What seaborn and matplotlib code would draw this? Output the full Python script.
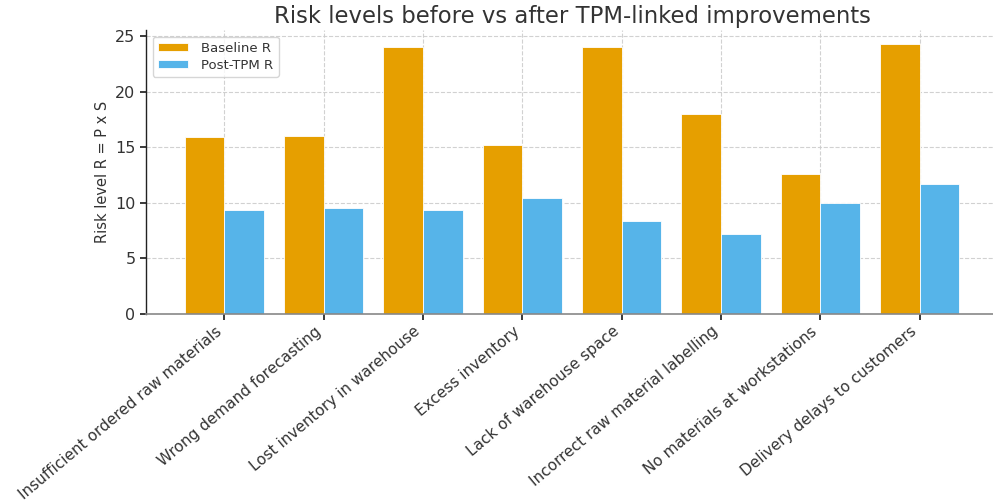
import matplotlib
matplotlib.use("Agg")
import matplotlib.pyplot as plt
import seaborn as sns
import pandas as pd

categories = [
    "Insufficient ordered raw materials",
    "Wrong demand forecasting",
    "Lost inventory in warehouse",
    "Excess inventory",
    "Lack of warehouse space",
    "Incorrect raw material labelling",
    "No materials at workstations",
    "Delivery delays to customers",
]
baseline_r = [15.9, 16.0, 24.0, 15.2, 24.0, 18.0, 12.6, 24.3]
post_tpm_r = [9.4, 9.5, 9.4, 10.4, 8.4, 7.2, 10.0, 11.7]
series_names = ["Baseline R", "Post-TPM R"]
colors = ["#E69F00", "#56B4E9"]

df = pd.DataFrame({
    "Failure mode": categories * 2,
    "Risk": baseline_r + post_tpm_r,
    "Series": [series_names[0]] * len(categories) + [series_names[1]] * len(categories),
})

sns.set_theme(style="white")
plt.rcParams["font.family"] = ["DejaVu Sans"]

fig = plt.figure(figsize=(9.93, 5.01), dpi=100)
ax = fig.add_axes([146 / 993, 1 - 314 / 501, (998 - 146) / 993, (314 - 30) / 501])

sns.barplot(
    data=df, x="Failure mode", y="Risk", hue="Series",
    palette=colors, saturation=1, width=0.8, ax=ax,
    edgecolor="white", linewidth=0.6,
)

ax.set_xlim(-0.79, len(categories) - 1 + 0.79)
ax.set_ylim(0, 25.56)
ax.set_yticks([0, 5, 10, 15, 20, 25])
ax.grid(True, linestyle="--", color="#cccccc", linewidth=0.8, alpha=0.9)
ax.set_axisbelow(True)

for side in ("top", "right"):
    ax.spines[side].set_visible(False)
ax.spines["left"].set_color("#222222")
ax.spines["bottom"].set_color("#888888")
ax.spines["left"].set_linewidth(1.0)
ax.spines["bottom"].set_linewidth(1.2)

ax.tick_params(axis="x", bottom=True, length=4, color="#222222", labelsize=11, pad=3)
ax.tick_params(axis="y", left=True, length=4.5, color="#222222", labelsize=11.5, pad=3)
plt.setp(ax.get_xticklabels(), rotation=40, ha="right", color="#333333")
plt.setp(ax.get_yticklabels(), color="#333333")

ax.set_xlabel("")
ax.set_ylabel("Risk level R = P x S", fontsize=10.5, color="#333333", labelpad=4)
ax.set_title("Risk levels before vs after TPM-linked improvements", fontsize=16.4, color="#333333", pad=5)

leg = ax.legend(loc="upper left", bbox_to_anchor=(0, 1), borderaxespad=0.5,
                fontsize=9.5, frameon=True, framealpha=0.8,
                edgecolor="#cccccc", handlelength=2.3, handleheight=0.6,
                borderpad=0.4, labelspacing=0.3, handletextpad=1.0)
for t in leg.get_texts():
    t.set_color("#333333")

fig.savefig("out.png", dpi=100)
